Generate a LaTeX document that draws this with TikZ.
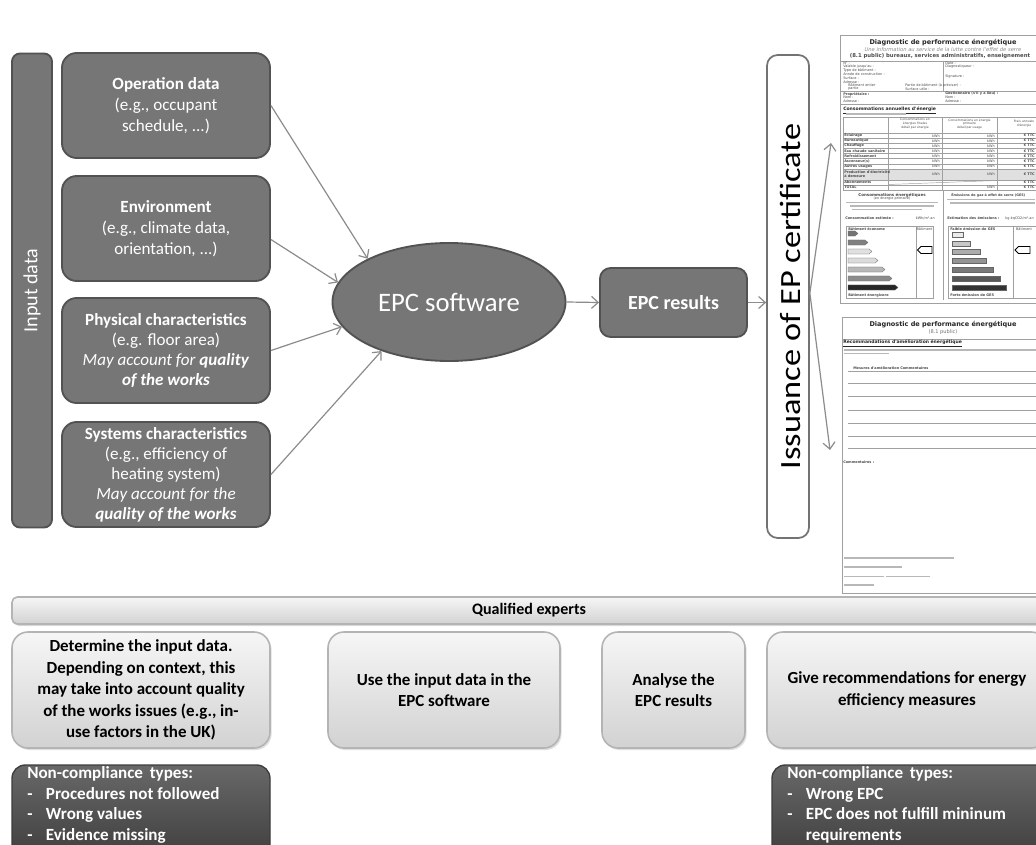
\documentclass[tikz,border=0pt]{standalone}
\usepackage{fontspec}
\setmainfont{Carlito}
\newfontfamily\docfont{DejaVu Sans}
\usetikzlibrary{shapes.geometric,arrows.meta,shadows,calc}

\definecolor{boxgray}{HTML}{767676}
\definecolor{boxedge}{HTML}{525252}
\definecolor{arrowgray}{HTML}{8C8C8C}
\definecolor{lighttop}{HTML}{F6F6F6}
\definecolor{lightbot}{HTML}{D2D2D2}
\definecolor{lightedge}{HTML}{B4B4B4}
\definecolor{darktop}{HTML}{686868}
\definecolor{darkbot}{HTML}{3C3C3C}
\definecolor{doctext}{HTML}{4A4A4A}
\definecolor{docline}{HTML}{A0A0A0}
\definecolor{barfill}{HTML}{B8B8B8}

\tikzset{
 inbox/.style={rounded corners=11pt, fill=boxgray, draw=boxedge, line width=1.4pt, text=white, align=center,
   minimum width=156pt, minimum height=78.75pt, inner sep=2pt, font=\fontsize{12.8}{15.7}\selectfont},
 lightbox/.style={rounded corners=12pt, top color=lighttop, bottom color=lightbot, draw=lightedge, line width=1.2pt,
   align=center, font=\bfseries\fontsize{12.7}{16.2}\selectfont, minimum height=87pt, inner sep=2pt,
   drop shadow={opacity=0.25, shadow xshift=1.2pt, shadow yshift=-1.5pt}},
 darkbox/.style={rounded corners=10pt, top color=darktop, bottom color=darkbot, draw=darkbot, line width=1pt, minimum height=75pt},
 darktext/.style={text=white, align=left, anchor=north west, inner sep=0pt, font=\bfseries\fontsize{12.8}{15.6}\selectfont},
 issbox/.style={draw=black!55, line width=1.3pt, fill=white, rounded corners=8pt, minimum width=31.5pt, minimum height=362.25pt},
 conn/.style={draw=arrowgray, line width=0.9pt, -{Straight Barb[length=5pt,width=9pt]}},
 doctxt/.style={inner sep=0pt, text=doctext, font=\docfont\fontsize{2.6}{3.1}\selectfont},
 docbold/.style={inner sep=0pt, text=doctext, font=\docfont\bfseries\fontsize{2.6}{3.1}\selectfont},
 docrule/.style={draw=docline, line width=0.35pt},
}
\newcommand\dbar[3]{\fill[barfill] (#1,#2-0.7) rectangle (#1+#3,#2+0.7);}

\begin{document}
\begin{tikzpicture}[x=0.75pt,y=-0.75pt]
\useasboundingbox (0,0) rectangle (1036,845);
\clip (0,0) rectangle (1036,845);
\fill[white] (0,0) rectangle (1036,845);

% ---------------- Input data ----------------
\node[inbox, minimum width=30pt, minimum height=355.5pt, rounded corners=6pt] (inp) at (32,290.5) {};
\node[rotate=90, text=white, inner sep=0pt, font=\fontsize{15}{18}\selectfont] (inplabel) at (inp.center) {Input data};

\node[inbox] (op) at (166,105.5) {\textbf{Operation data}\\(e.g., occupant\\schedule, ...)};
\node[inbox] (env) at (166,228.5) {\textbf{Environment}\\(e.g., climate data,\\orientation, ...)};
\node[inbox, font=\fontsize{12.8}{15.2}\selectfont] (phy) at (166,350.5) {\textbf{Physical characteristics}\\(e.g. floor area)\\\textit{May account for \textbf{quality}}\\\textit{\textbf{of the works}}};
\node[inbox, font=\fontsize{12.8}{15}\selectfont, inner sep=1pt] (sys) at (166,474.5) {\textbf{Systems characteristics}\\(e.g., efficiency of\\heating system)\\\textit{May account for the}\\\textit{\textbf{quality of the works}}};

% ---------------- EPC software / results ----------------
\node[ellipse, fill=boxgray, draw=boxedge, line width=1.4pt, minimum width=174.75pt, minimum height=88.5pt,
  inner sep=0pt, text=white, font=\fontsize{20}{23}\selectfont] (epc) at (449,302) {EPC software};
\node[inbox, minimum width=110.25pt, minimum height=51.75pt, rounded corners=8pt,
  font=\bfseries\fontsize{15}{18}\selectfont] (res) at (673.5,302.5) {EPC results};

\node[issbox] (iss) at (788,296.5) {};
\node[rotate=90, inner sep=0pt, font=\fontsize{22}{25}\selectfont] (isslabel) at ([xshift=2pt]iss.center) {\scalebox{1.17}[1]{Issuance of EP certificate}};

\draw[conn] (op.east) -- (epc.152);
\draw[conn] (env.-6) -- (epc.170);
\draw[conn] (phy.east) -- (epc.193);
\draw[conn] (sys.east) -- (epc.216);
\draw[conn] (epc.east) -- (res.west);
\draw[conn] (res.east) -- (res.east -| iss.west);
\coordinate (cert1) at (831,143);
\coordinate (cert2) at (830,450);
\draw[conn] ([yshift=2.5pt]iss.east) -- (cert1);
\draw[conn] ([yshift=2.5pt]iss.east) -- (cert2);

% ---------------- Document 1 ----------------
\draw[docrule, fill=white] (840,35) rectangle (1052,303);
\node[inner sep=0pt, text=black!85, font=\docfont\bfseries\fontsize{4.9}{5.5}\selectfont] (d1title) at (943,43) {Diagnostic de performance énergétique};
\node[inner sep=0pt, text=black!45, font=\docfont\itshape\fontsize{3.9}{4.5}\selectfont] (d1sub) at (943,49.5) {Une information au service de la lutte contre l'effet de serre};
\node[inner sep=0pt, text=black!70, font=\docfont\bfseries\fontsize{4}{4.5}\selectfont] (d1sub2) at (940,56) {(8.1 public) bureaux, services administratifs, enseignement};
\draw[docrule] (840,61) -- (1052,61);
\draw[docrule] (943,61) -- (943,91);
\foreach \y/\t [count=\i] in {63.5/N° :, 67/Valable jusqu'au :, 70.5/Type de bâtiment :, 74/Année de construction :, 78/Surface :, 82/Adresse :}
  \node[doctxt, anchor=west] (hl\i) at (843,\y) {\t};
\node[doctxt, anchor=west] (hb1) at (848,85.5) {Bâtiment entier};
\node[doctxt, anchor=west] (hb2) at (848,89) {partie};
\node[doctxt, anchor=west] (hm1) at (905,85.5) {Partie de bâtiment (à préciser) :};
\node[doctxt, anchor=west] (hm2) at (905,89) {Surface utile :};
\node[doctxt, anchor=west] (hr1) at (945,63.5) {Date :};
\node[doctxt, anchor=west] (hr2) at (945,67) {Diagnostiqueur :};
\node[doctxt, anchor=west] (hr3) at (945,77) {Signature :};
\draw[docrule] (840,91.5) -- (1052,91.5);
\node[docbold, anchor=west] (hp1) at (843,94) {Propriétaire :};
\node[doctxt, anchor=west] (hp2) at (843,97.5) {Nom :};
\node[doctxt, anchor=west] (hp3) at (843,101) {Adresse :};
\node[docbold, anchor=west] (hg1) at (945,94) {Gestionnaire (s'il y a lieu) :};
\node[doctxt, anchor=west] (hg2) at (945,97.5) {Nom :};
\node[doctxt, anchor=west] (hg3) at (945,101) {Adresse :};
\draw[docrule] (840,104.5) -- (1052,104.5);
\node[inner sep=0pt, anchor=west, text=black!85, font=\docfont\bfseries\fontsize{3.4}{4}\selectfont] (cons) at (843,110.5) {\underline{Consommations annuelles d'énergie}};
\dbar{846}{114}{60}
% table
\fill[black!12] (843,169) rectangle (1052,180);
\draw[docrule] (843,117) rectangle (1052,190);
\foreach \x in {888,942,997} \draw[docrule] (\x,117) -- (\x,190);
\foreach \y in {133,138.2,143.2,148.2,153.4,158.6,164,169,180,185} \draw[docrule] (843,\y) -- (1052,\y);
\node[doctxt, align=center, font=\docfont\fontsize{2.3}{2.9}\selectfont] (th2) at (915,124) {Consommations en\\énergies finales\\détail par énergie};
\node[doctxt, align=center, font=\docfont\fontsize{2.3}{2.9}\selectfont] (th3) at (969.5,124) {Consommations en énergie\\primaire\\détail par usage};
\node[doctxt, align=center, font=\docfont\fontsize{2.3}{2.9}\selectfont] (th4) at (1024,124) {Frais annuels\\d'énergie};
\foreach \y/\t [count=\i] in {135.7/Éclairage, 140.7/Bureautique, 145.7/Chauffage, 150.8/Eau chaude sanitaire, 156/Refroidissement, 161.3/Ascenseur(s), 166.5/Autres usages, 182.5/Abonnements, 187.5/TOTAL}
  \node[docbold, anchor=west] (tl\i) at (844,\y) {\t};
\node[docbold, anchor=west, align=left] (tlp) at (844,174.5) {Production d'électricité\\à demeure};
\foreach \y [count=\i] in {135.7,140.7,145.7,150.8,156,161.3,166.5,174.5} {
  \node[doctxt, anchor=east] (tc\i) at (940,\y) {kWh};
  \node[doctxt, anchor=east] (td\i) at (995,\y) {kWh};
  \node[docbold, anchor=east] (te\i) at (1035,\y) {€ TTC};
}
\node[docbold, anchor=east] (te9) at (1035,182.5) {€ TTC};
\node[doctxt, anchor=east] (td10) at (995,187.5) {kWh};
\node[docbold, anchor=east] (te10) at (1035,187.5) {€ TTC};
\draw[docrule] (888,184.5) -- (997,180.5);
% lower panels
\draw[docrule] (943,190) -- (943,300);
\node[docbold, font=\docfont\bfseries\fontsize{3}{3.5}\selectfont] (lp1) at (892,195) {Consommations énergétiques};
\node[doctxt] (lp2) at (892,198.8) {(en énergie primaire)};
\dbar{846}{202.5}{92}
\dbar{850}{206}{84}
\dbar{852}{209.5}{70}
\node[docbold, anchor=west] (lp3) at (845,218) {Consommation estimée :};
\node[doctxt, anchor=east] (lp4) at (935,218) {kWh/m².an};
\draw[docrule] (846,226) rectangle (933,298);
\draw[docrule] (916,226) -- (916,298);
\node[docbold, anchor=west] (lp5) at (848,229.5) {Bâtiment économe};
\node[doctxt] (lp6) at (924.5,229.5) {Bâtiment};
\foreach \y/\e/\c in {233.5/858/black!55, 242.5/868/black!50, 251.5/872/black!12, 260.5/878/black!14, 269.5/885/black!28, 278.5/892/black!45, 287.5/898/black!85}
  \filldraw[fill=\c, draw=black!60, line width=0.2pt] (848,\y-2.6) -- (\e-3,\y-2.6) -- (\e,\y) -- (\e-3,\y+2.6) -- (848,\y+2.6) -- cycle;
\node[docbold, anchor=west] (lp7) at (848,295.5) {Bâtiment énergivore};
\filldraw[fill=white, draw=black, line width=0.7pt] (917.5,250) -- (921,246.5) -- (932,246.5) -- (932,253.5) -- (921,253.5) -- cycle;
\node[docbold, anchor=west, font=\docfont\bfseries\fontsize{2.5}{3}\selectfont] (rp1) at (951,195) {Émissions de gaz à effet de serre (GES)};
\dbar{947}{199.5}{88}
\dbar{950}{203}{85}
\node[docbold, anchor=west] (rp3) at (947,218) {Estimation des émissions :};
\node[doctxt, anchor=east] (rp4) at (1034,218) {kg éqCO2/m².an};
\draw[docrule] (948,226) rectangle (1052,298);
\draw[docrule] (1013,226) -- (1013,298);
\node[docbold, anchor=west] (rp5) at (950,229.5) {Faible émission de GES};
\node[doctxt] (rp6) at (1024,229.5) {Bâtiment};
\foreach \y/\e/\c in {235/963/black!8, 243.5/970/black!22, 252/980/black!32, 261/986/black!42, 270/993/black!52, 279/1000/black!65, 288/1006/black!80}
  \filldraw[fill=\c, draw=black!60, line width=0.2pt] (952,\y-2.6) -- (\e,\y-2.6) -- (\e,\y+2.6) -- (952,\y+2.6) -- cycle;
\node[docbold, anchor=west] (rp7) at (950,295.5) {Forte émission de GES};
\filldraw[fill=white, draw=black, line width=0.7pt] (1015,250) -- (1018.5,246.5) -- (1030,246.5) -- (1030,253.5) -- (1018.5,253.5) -- cycle;

% ---------------- Document 2 ----------------
\draw[docrule, fill=white] (842,317) rectangle (1052,593);
\draw[docrule] (842,339) -- (1052,339);
\node[inner sep=0pt, text=black!85, font=\docfont\bfseries\fontsize{4.9}{5.5}\selectfont] (d2title) at (943,325) {Diagnostic de performance énergétique};
\node[inner sep=0pt, text=black!55, font=\docfont\fontsize{3.8}{4.4}\selectfont] (d2sub) at (943,332.5) {(8.1 public)};
\node[inner sep=0pt, anchor=west, text=black!85, font=\docfont\bfseries\fontsize{3.4}{4}\selectfont] (reco) at (843,343.5) {\underline{Recommandations d'amélioration énergétique}};
\dbar{844}{350}{200}
\dbar{844}{353.5}{45}
\node[docbold, anchor=west] (mes) at (853,368) {Mesures d'amélioration};
\node[docbold, anchor=west] (com) at (900,368) {Commentaires};
\foreach \y in {371.5,383,396.5,410,423,436.5,448} \draw[docrule] (848,\y) -- (1052,\y);
\node[docbold, anchor=west] (com2) at (843,462.5) {Commentaires :};
\dbar{844}{558}{110}
\dbar{844}{567}{58}
\dbar{844}{576.5}{40}
\dbar{886}{576.5}{44}
\dbar{844}{585}{30}

% ---------------- Qualified experts ----------------
\node[lightbox, rounded corners=4pt, minimum width=775.5pt, minimum height=20.25pt, font=\bfseries\fontsize{12}{14}\selectfont,
  drop shadow={opacity=0.2, shadow xshift=0.8pt, shadow yshift=-1pt}] (qe) at (529,610.5) {Qualified experts};

\node[lightbox, minimum width=193.5pt] (b1) at (141,690) {Determine the input data.\\Depending on context, this\\may take into account quality\\of the works issues (e.g., in-\\use factors in the UK)};
\node[lightbox, minimum width=174pt] (b2) at (444,690) {Use the input data in the\\EPC software};
\node[lightbox, minimum width=107.25pt] (b3) at (673.5,690) {Analyse the\\EPC results};
\node[lightbox, minimum width=210pt] (b4) at (907,690) {Give recommendations for energy\\efficiency measures};

% ---------------- Non-compliance ----------------
\node[darkbox, minimum width=193.5pt] (nc1) at (141,815) {};
\node[darktext] (nc1t) at (27,766) {Non-compliance\, types:\\\makebox[14pt][l]{-}Procedures not followed\\\makebox[14pt][l]{-}Wrong values\\\makebox[14pt][l]{-}Evidence missing};
\node[darkbox, minimum width=216pt] (nc2) at (916,815) {};
\node[darktext] (nc2t) at (787,766) {Non-compliance\, types:\\\makebox[14pt][l]{-}Wrong EPC\\\makebox[14pt][l]{-}EPC does not fulfill mininum\\\hspace*{14pt}requirements};
\end{tikzpicture}
\end{document}
